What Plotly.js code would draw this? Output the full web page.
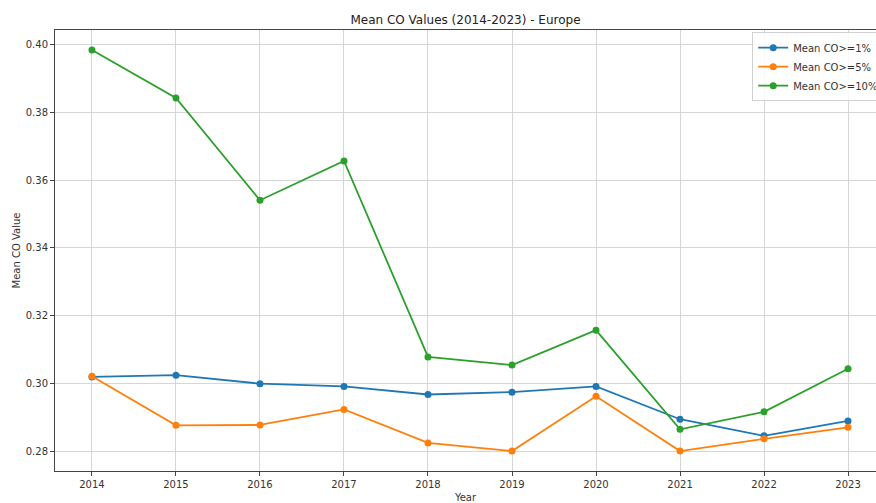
<!DOCTYPE html>
<html>
<head>
<meta charset="utf-8">
<script src="https://cdn.plot.ly/plotly-3.0.1.min.js"></script>
<style>
  html, body { margin: 0; padding: 0; overflow: hidden; background: #fff; }
  #chart { width: 876px; height: 503px; }
</style>
</head>
<body>
<div id="chart"></div>
<script>
// Yearly mean CO values for Europe at three coverage thresholds
const years = [2014, 2015, 2016, 2017, 2018, 2019, 2020, 2021, 2022, 2023];
const meanCO1 = [0.3019, 0.3024, 0.2999, 0.2991, 0.2967, 0.2974, 0.2991, 0.2894, 0.2845, 0.2889];
const meanCO5 = [0.3021, 0.2876, 0.2877, 0.2923, 0.2824, 0.2800, 0.2962, 0.2800, 0.2836, 0.2870];
const meanCO10 = [0.3985, 0.3843, 0.3541, 0.3657, 0.3078, 0.3054, 0.3157, 0.2864, 0.2916, 0.3043];
const seriesNames = ['Mean CO>=1%', 'Mean CO>=5%', 'Mean CO>=10%'];
const seriesColors = ['#1f77b4', '#ff7f0e', '#2ca02c'];
const yTicks = [0.28, 0.30, 0.32, 0.34, 0.36, 0.38, 0.40];

const font = 'DejaVu Sans, sans-serif';
const seriesValues = [meanCO1, meanCO5, meanCO10];

const traces = seriesValues.map((vals, i) => ({
  x: years,
  y: vals,
  name: seriesNames[i],
  type: 'scatter',
  mode: 'lines+markers',
  line: { color: seriesColors[i], width: 1.8 },
  marker: { color: seriesColors[i], size: 7 }
}));

const layout = {
  width: 876,
  height: 503,
  margin: { l: 55, r: 0, t: 30, b: 32, autoexpand: false },
  paper_bgcolor: '#fff',
  plot_bgcolor: '#fff',
  font: { family: font, size: 10, color: '#333' },
  title: {
    text: 'Mean CO Values (2014-2023) - Europe',
    font: { family: font, size: 12, color: '#222' },
    x: 0.5, xref: 'paper', xanchor: 'center',
    y: 1, yref: 'paper', yanchor: 'bottom', pad: { b: 6 }
  },
  xaxis: {
    // the plotting area runs past the right edge of the page
    range: [2013.56, 2023.333],
    tickmode: 'array',
    tickvals: years,
    ticktext: years.map(String),
    showgrid: true, gridcolor: '#d6d6d6', gridwidth: 1,
    zeroline: false,
    showline: true, linecolor: '#444', linewidth: 1, mirror: true,
    ticks: 'outside', ticklen: 4, tickcolor: '#444',
    tickfont: { family: font, size: 10, color: '#333' },
    title: { text: 'Year', font: { family: font, size: 10, color: '#333' }, standoff: 4 }
  },
  yaxis: {
    range: [0.2741, 0.4044],
    tickmode: 'array',
    tickvals: yTicks,
    ticktext: yTicks.map(v => v.toFixed(2)),
    showgrid: true, gridcolor: '#d6d6d6', gridwidth: 1,
    zeroline: false,
    showline: true, linecolor: '#444', linewidth: 1, mirror: false,
    ticks: 'outside', ticklen: 4, tickcolor: '#444',
    tickfont: { family: font, size: 10, color: '#333' },
    title: { text: 'Mean CO Value', font: { family: font, size: 10, color: '#333' }, standoff: 3 }
  },
  legend: {
    x: 1.01, xanchor: 'right', xref: 'paper',
    y: 0.995, yanchor: 'top', yref: 'paper',
    bgcolor: 'rgba(255,255,255,0.85)',
    bordercolor: '#d0d0d0', borderwidth: 1,
    font: { family: font, size: 10, color: '#333' },
    tracegroupgap: 0,
    itemwidth: 30
  },
  showlegend: true
};

Plotly.newPlot('chart', traces, layout, { displayModeBar: false, staticPlot: true });
</script>
</body>
</html>
